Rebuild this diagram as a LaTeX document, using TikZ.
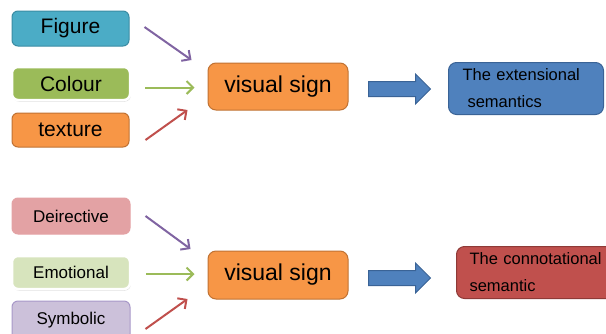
\documentclass[tikz,border=0pt]{standalone}
\usepackage{fontspec}
\setmainfont{Liberation Sans}
\usetikzlibrary{shapes,arrows,arrows.meta,positioning,shadows}
\definecolor{figblue}{HTML}{4BACC6}
\definecolor{figline}{HTML}{3A8CA3}
\definecolor{colgreen}{HTML}{9BBB59}
\definecolor{signorange}{HTML}{F79646}
\definecolor{signline}{HTML}{C07233}
\definecolor{dirpink}{HTML}{E3A2A4}
\definecolor{emogreen}{HTML}{D7E4BD}
\definecolor{symlav}{HTML}{CCC1DA}
\definecolor{symline}{HTML}{A898C8}
\definecolor{extblue}{HTML}{4F81BD}
\definecolor{extline}{HTML}{3A6396}
\definecolor{conred}{HTML}{C0504D}
\definecolor{conline}{HTML}{8E3A37}
\definecolor{arrpurple}{HTML}{8064A2}
\definecolor{arrgreen}{HTML}{9BBB59}
\definecolor{arrred}{HTML}{C0504D}

\begin{document}
\begin{tikzpicture}[x=1pt, y=-1pt,
  inbox/.style={draw, rounded corners=6pt, line width=1pt, minimum width=117pt, inner sep=0pt, text=black},
  glowbox/.style={draw=white, line width=2.5pt, rounded corners=6pt, minimum width=118pt, inner sep=0pt, text=black,
    drop shadow={shadow xshift=0.8pt, shadow yshift=-1.5pt, opacity=0.35}},
  signbox/.style={draw=signline, fill=signorange, rounded corners=8pt, line width=1pt, minimum width=140pt, minimum height=47pt, font=\fontsize{23}{27}\selectfont},
  outbox/.style={draw, rounded corners=8pt, line width=1pt, anchor=north west, minimum height=52pt, align=left, text=black, font=\fontsize{16.5}{27}\selectfont},
  fatarrow/.style={single arrow, draw=extline, fill=extblue, line width=1pt, anchor=tail, inner xsep=0pt, inner ysep=7pt,
    minimum height=62pt, minimum width=29pt, single arrow head extend=7.5pt},
  thinarrow/.style={line width=2pt, -{Straight Barb[length=6.5pt,width=13pt]}}
]
\useasboundingbox (0,0) rectangle (606,333);

\node[inbox, draw=figline, fill=figblue, minimum height=35pt, font=\fontsize{21}{25}\selectfont] (Fig) at (70.5,28.5) {Figure};
\node[glowbox, fill=colgreen, minimum height=33pt, font=\fontsize{21}{25}\selectfont] (Col) at (71,83.5) {Colour};
\node[inbox, draw=signline, fill=signorange, minimum height=34pt, font=\fontsize{21}{25}\selectfont] (Tex) at (70.5,130) {texture};
\node[signbox] (V1) at (278,86.5) {visual sign};
\node[fatarrow] (BA1) at (368,89) {};
\node[outbox, draw=extline, fill=extblue, minimum width=155pt, inner xsep=14pt, text width=127pt] (Ext) at (448,62) {The extensional\\\hspace*{5pt}semantics};
%============
\node[inbox, draw=dirpink, fill=dirpink, minimum width=118pt, minimum height=36pt, font=\fontsize{17}{20}\selectfont] (Dir) at (71,216) {Deirective};
\node[glowbox, fill=emogreen, minimum height=33pt, font=\fontsize{17}{20}\selectfont] (Emo) at (71,272.5) {Emotional};
\node[inbox, draw=symline, fill=symlav, minimum width=118pt, minimum height=39pt, font=\fontsize{17}{20}\selectfont] (Sym) at (71,320.5) {Symbolic};
\node[signbox, minimum height=48pt] (V2) at (278,275) {visual sign};
\node[fatarrow] (BA2) at (368,278) {};
\node[outbox, draw=conline, fill=conred, minimum width=166pt, inner xsep=13pt, text width=140pt] (Con) at (456,246) {The connotational\\semantic};
%==========

\draw[thinarrow, arrpurple] ([xshift=15pt,yshift=1.5pt]Fig.east) -- ([xshift=-16pt,yshift=26.5pt]V1.west);
\draw[thinarrow, arrgreen] ([xshift=14pt,yshift=-4pt]Col.east) -- ([xshift=-13pt,yshift=-1pt]V1.west);
\draw[thinarrow, arrred] ([xshift=16pt,yshift=-10pt]Tex.east) -- ([xshift=-20pt,yshift=-23.5pt]V1.west);

\draw[thinarrow, arrpurple] ([xshift=15pt]Dir.east) -- ([xshift=-17pt,yshift=26pt]V2.west);
\draw[thinarrow, arrgreen] ([xshift=15pt,yshift=-1.5pt]Emo.east) -- ([xshift=-13pt,yshift=1pt]V2.west);
\draw[thinarrow, arrred] ([xshift=15pt,yshift=-8.5pt]Sym.east) -- ([xshift=-20pt,yshift=-24pt]V2.west);

\end{tikzpicture}
\end{document}
